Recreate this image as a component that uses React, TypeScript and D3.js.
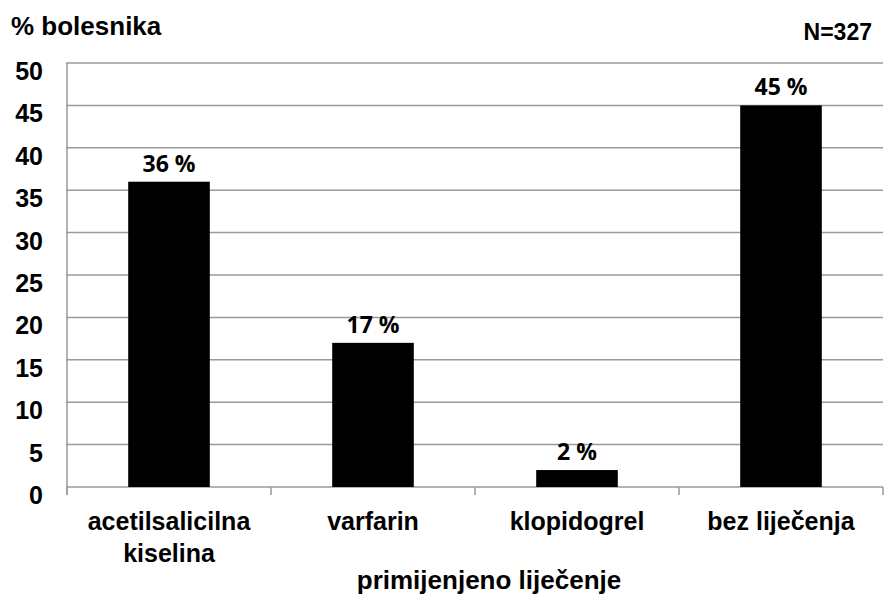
import React, { useEffect, useRef } from 'react';
import * as d3 from 'd3';

const categories = ['acetilsalicilna kiselina', 'varfarin', 'klopidogrel', 'bez liječenja'];
const categoryLines = [['acetilsalicilna', 'kiselina'], ['varfarin'], ['klopidogrel'], ['bez liječenja']];
const values = [36, 17, 2, 45];
const yTicks = [0, 5, 10, 15, 20, 25, 30, 35, 40, 45, 50];

const App: React.FC = () => {
  const ref = useRef<SVGSVGElement | null>(null);

  useEffect(() => {
    if (!ref.current) return;
    const width = 884;
    const height = 594;
    const left = 67;
    const right = 883;
    const top = 63;
    const bottom = 487;

    const svg = d3.select(ref.current);
    svg.selectAll('*').remove();

    const x = d3.scaleBand<string>().domain(categories).range([left, right]).paddingInner(0.6).paddingOuter(0.3);
    const xEdge = d3.scaleLinear().domain([0, categories.length]).range([left, right]);
    const y = d3.scaleLinear().domain([0, 50]).range([bottom, top]);

    const grey = '#9a9a9a';
    const sans = 'Liberation Sans, Arial, sans-serif';

    // gridlines
    svg.append('g')
      .selectAll('line')
      .data(yTicks)
      .enter()
      .append('line')
      .attr('x1', left - 1)
      .attr('x2', right)
      .attr('y1', d => y(d))
      .attr('y2', d => y(d))
      .attr('stroke', grey)
      .attr('stroke-width', 1.5);

    // left axis line
    svg.append('line')
      .attr('x1', left).attr('x2', left)
      .attr('y1', top).attr('y2', bottom + 8)
      .attr('stroke', grey).attr('stroke-width', 1.5);

    // category tick marks
    svg.append('g')
      .selectAll('line')
      .data(d3.range(categories.length + 1))
      .enter()
      .append('line')
      .attr('x1', d => xEdge(d))
      .attr('x2', d => xEdge(d))
      .attr('y1', bottom)
      .attr('y2', bottom + 8)
      .attr('stroke', grey)
      .attr('stroke-width', 1.5);

    // y tick labels
    svg.append('g')
      .selectAll('text')
      .data(yTicks)
      .enter()
      .append('text')
      .attr('x', 43)
      .attr('y', d => y(d) + 17)
      .attr('text-anchor', 'end')
      .attr('font-family', sans)
      .attr('font-weight', 'bold')
      .attr('font-size', 25)
      .text(d => d);

    // bars
    svg.append('g')
      .selectAll('rect')
      .data(values)
      .enter()
      .append('rect')
      .attr('x', (d, i) => x(categories[i]) as number)
      .attr('width', x.bandwidth())
      .attr('y', d => y(d))
      .attr('height', d => bottom - y(d))
      .attr('fill', '#000');

    // value labels
    svg.append('g')
      .selectAll('text')
      .data(values)
      .enter()
      .append('text')
      .attr('x', (d, i) => (x(categories[i]) as number) + x.bandwidth() / 2)
      .attr('y', d => y(d) - 10)
      .attr('text-anchor', 'middle')
      .attr('font-family', 'Open Sans, sans-serif')
      .attr('font-weight', 'bold')
      .attr('font-size', 23)
      .text(d => `${d} %`);

    // category labels
    categoryLines.forEach((lines, i) => {
      const cx = (x(categories[i]) as number) + x.bandwidth() / 2;
      lines.forEach((line, j) => {
        svg.append('text')
          .attr('x', cx)
          .attr('y', 530 + j * 32)
          .attr('text-anchor', 'middle')
          .attr('font-family', sans)
          .attr('font-weight', 'bold')
          .attr('font-size', 25)
          .text(line);
      });
    });

    // axis titles
    svg.append('text')
      .attr('x', 489)
      .attr('y', 589)
      .attr('text-anchor', 'middle')
      .attr('font-family', sans)
      .attr('font-weight', 'bold')
      .attr('font-size', 26)
      .text('primijenjeno liječenje');

    svg.append('text')
      .attr('x', 11)
      .attr('y', 35)
      .attr('font-family', sans)
      .attr('font-weight', 'bold')
      .attr('font-size', 26)
      .text('% bolesnika');

    svg.append('text')
      .attr('x', 872)
      .attr('y', 40)
      .attr('text-anchor', 'end')
      .attr('font-family', sans)
      .attr('font-weight', 'bold')
      .attr('font-size', 23)
      .text('N=327');

    svg.attr('width', width).attr('height', height);
  }, []);

  return (
    <svg ref={ref} width={884} height={594} style={{ position: 'absolute', left: 0, top: 0, background: '#fff' }} />
  );
};

export default App;
